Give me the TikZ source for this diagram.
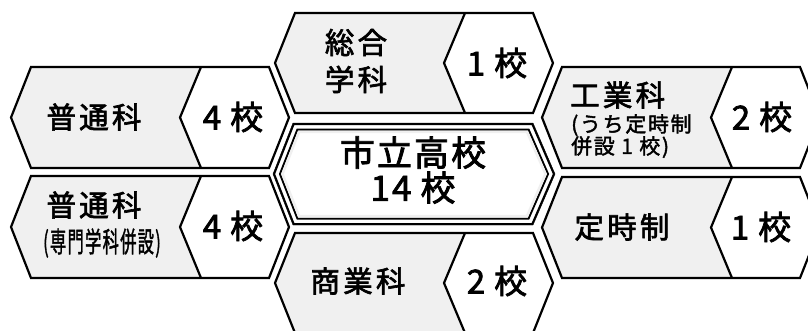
\documentclass[tikz,border=0pt]{standalone}
\usepackage{fontspec}
\setmainfont[FakeBold=2.2]{Noto Sans CJK JP}
\newfontfamily\jpsp[LetterSpace=11,FakeBold=2.2]{Noto Sans CJK JP}
\newfontfamily\jpbig[LetterSpace=6,FakeBold=2.2]{Noto Sans CJK JP}
\newfontfamily\jpsub[LetterSpace=8,FakeBold=1.8]{Noto Sans CJK JP}
\definecolor{lg}{RGB}{240,240,240}
\tikzset{
  shp/.style={draw=black, line width=2.2pt, line join=miter},
  lab/.style={inner sep=0pt, font=\jpsp\fontsize{29.5}{37}\selectfont},
  cnt/.style={inner sep=0pt, font=\fontsize{33}{36}\selectfont},
  big/.style={inner sep=0pt, font=\jpbig\fontsize{35}{35}\selectfont},
  subl/.style={inner sep=0pt, font=\jpsub\fontsize{21}{22}\selectfont},
}
\newcommand{\hexshape}[3]{%
  \pgfmathsetmacro\hexM{(#2+#3)/2}%
  \fill[lg] (#1,\hexM) -- (#1+20,#2) -- (#1+258,#2) -- (#1+278,\hexM) -- (#1+258,#3) -- (#1+20,#3) -- cycle;
  \fill[white] (#1+190,#2) -- (#1+169,\hexM) -- (#1+190,#3) -- (#1+258,#3) -- (#1+278,\hexM) -- (#1+258,#2) -- cycle;
  \draw[shp] (#1+190,#2) -- (#1+169,\hexM) -- (#1+190,#3);
  \draw[shp] (#1,\hexM) -- (#1+20,#2) -- (#1+258,#2) -- (#1+278,\hexM) -- (#1+258,#3) -- (#1+20,#3) -- cycle;
}
\newcommand{\chex}[2]{%
  \draw[#2] (273+1.074*#1,174) -- (293+0.682*#1,123+#1) -- (533-0.682*#1,123+#1) -- (555-1.074*#1,174) -- (533-0.682*#1,225-#1) -- (293+0.682*#1,225-#1) -- cycle;
}
\newcommand{\gap}{\hspace{9pt}}
\begin{document}
\begin{tikzpicture}[x=1pt,y=-1pt]
\useasboundingbox (0,0) rectangle (808,330);
\fill[white] (0,0) rectangle (808,330);
% outer shapes
\hexshape{11}{67}{168}
\hexshape{11}{176}{278}
\hexshape{275}{13}{113}
\hexshape{275}{233}{333}
\hexshape{542}{67}{168}
\hexshape{542}{177}{278}
% centre
\chex{0}{fill=white}
\chex{1}{draw=black, line width=2pt}
\chex{6.5}{draw=black, line width=2pt}
\chex{8.8}{draw=lg, line width=2.6pt}
% texts
\node[lab] (tl) at (94,117) {普通科};
\node[cnt] (tlc) at (233,117) {4\gap 校};
\node[lab] (bl) at (94,205) {普通科};
\node[subl] (bls) at (102,243) {\scalebox{0.58}[1]{\fontsize{28}{30}\selectfont(専門学科併設)}};
\node[cnt] (blc) at (233,226) {4\gap 校};
\node[lab, align=left] (tm) at (356,61) {総合\\学科};
\node[cnt] (tmc) at (497,63) {1\gap 校};
\node[big, align=center] (c) at (413,170) {市立高校\\14\gap 校};
\node[lab] (bm) at (358,281) {商業科};
\node[cnt] (bmc) at (497,281) {2\gap 校};
\node[lab, anchor=west] (tr) at (570,95) {工業科};
\node[subl, anchor=north west, align=left] (trs) at (571,114) {(うち定時制\\併設 1 校)};
\node[cnt] (trc) at (762,117) {2\gap 校};
\node[lab] (br) at (622,227) {定時制};
\node[cnt] (brc) at (761,227) {1\gap 校};
\end{tikzpicture}
\end{document}
